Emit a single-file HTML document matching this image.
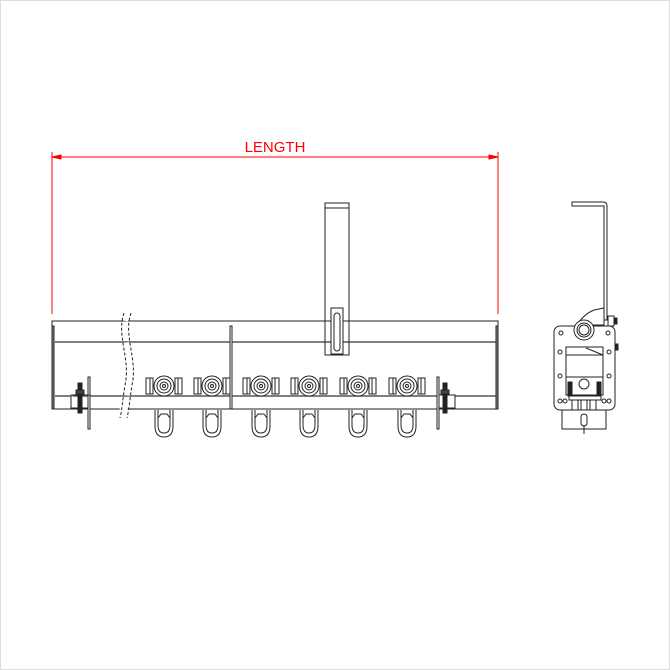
<!DOCTYPE html>
<html><head><style>html,body{margin:0;padding:0;background:#fff}svg{display:block}</style></head><body>
<svg width="670" height="670" viewBox="0 0 670 670" xmlns="http://www.w3.org/2000/svg">
<rect x="0.5" y="0.5" width="669" height="669" fill="#fff" stroke="#ddd"/>
<g stroke="#f00" stroke-width="1" fill="#f00">
<line x1="52" y1="152" x2="52" y2="314"/>
<line x1="498" y1="152" x2="498" y2="314"/>
<line x1="52" y1="157" x2="498" y2="157"/>
<path d="M52 157 L61 155 L61 159Z"/><path d="M498 157 L489 155 L489 159Z"/>
</g>
<text x="275" y="152" font-family="Liberation Sans, sans-serif" font-size="15" fill="#f00" text-anchor="middle">LENGTH</text>
<g fill="none" stroke="#222" stroke-width="1">
<rect x="325" y="203" width="24" height="152" fill="#fff"/>
<line x1="325" y1="208" x2="349" y2="208"/>
<rect x="52" y="321" width="446" height="88" fill="#fff"/>
<line x1="55" y1="342" x2="496" y2="342" stroke="#555" stroke-width="1.5"/>
<line x1="55" y1="396" x2="496" y2="396" stroke="#555" stroke-width="1.5"/>
<rect x="52" y="326" width="2" height="83" fill="#888"/>
<rect x="496" y="326" width="2" height="83" fill="#888"/>
<rect x="230" y="326" width="2" height="83" fill="#fff"/>
<rect x="325" y="321" width="24" height="34" fill="none"/>
<rect x="331" y="308" width="12" height="46" fill="#fff"/>
<rect x="334" y="313" width="6" height="38" rx="3" fill="#fff"/>
<path d="M126 313 C118 335,133 360,127 385 C124 405,124 410,122 418" stroke-dasharray="3,2" stroke="#fff" stroke-width="8"/>
<path d="M124 313 C116 335,131 360,125 385 C122 405,122 410,120 418" stroke-dasharray="3,2"/>
<path d="M131 313 C123 335,138 360,132 385 C129 405,129 410,127 418" stroke-dasharray="3,2"/>
</g>
<g fill="#fff" stroke="#222" stroke-width="1">
<g transform="translate(164,0)"><rect x="-18" y="378" width="6" height="16"/><rect x="12" y="378" width="6" height="16"/><rect x="-14" y="378" width="3" height="16"/><rect x="11" y="378" width="3" height="16"/><circle cx="0" cy="386" r="10"/><circle cx="0" cy="386" r="7"/><circle cx="0" cy="386" r="4"/><circle cx="0" cy="386" r="1.5"/><path d="M-9 410 L-9 426 Q-9 437 0 437 Q9 437 9 426 L9 410 M-6 410 L-6 425 Q-6 433 0 433 Q6 433 6 425 L6 410 M-6 418 L-3 414 L3 414 L6 418"/></g>
<g transform="translate(212,0)"><rect x="-18" y="378" width="6" height="16"/><rect x="12" y="378" width="6" height="16"/><rect x="-14" y="378" width="3" height="16"/><rect x="11" y="378" width="3" height="16"/><circle cx="0" cy="386" r="10"/><circle cx="0" cy="386" r="7"/><circle cx="0" cy="386" r="4"/><circle cx="0" cy="386" r="1.5"/><path d="M-9 410 L-9 426 Q-9 437 0 437 Q9 437 9 426 L9 410 M-6 410 L-6 425 Q-6 433 0 433 Q6 433 6 425 L6 410 M-6 418 L-3 414 L3 414 L6 418"/></g>
<g transform="translate(261,0)"><rect x="-18" y="378" width="6" height="16"/><rect x="12" y="378" width="6" height="16"/><rect x="-14" y="378" width="3" height="16"/><rect x="11" y="378" width="3" height="16"/><circle cx="0" cy="386" r="10"/><circle cx="0" cy="386" r="7"/><circle cx="0" cy="386" r="4"/><circle cx="0" cy="386" r="1.5"/><path d="M-9 410 L-9 426 Q-9 437 0 437 Q9 437 9 426 L9 410 M-6 410 L-6 425 Q-6 433 0 433 Q6 433 6 425 L6 410 M-6 418 L-3 414 L3 414 L6 418"/></g>
<g transform="translate(309,0)"><rect x="-18" y="378" width="6" height="16"/><rect x="12" y="378" width="6" height="16"/><rect x="-14" y="378" width="3" height="16"/><rect x="11" y="378" width="3" height="16"/><circle cx="0" cy="386" r="10"/><circle cx="0" cy="386" r="7"/><circle cx="0" cy="386" r="4"/><circle cx="0" cy="386" r="1.5"/><path d="M-9 410 L-9 426 Q-9 437 0 437 Q9 437 9 426 L9 410 M-6 410 L-6 425 Q-6 433 0 433 Q6 433 6 425 L6 410 M-6 418 L-3 414 L3 414 L6 418"/></g>
<g transform="translate(358,0)"><rect x="-18" y="378" width="6" height="16"/><rect x="12" y="378" width="6" height="16"/><rect x="-14" y="378" width="3" height="16"/><rect x="11" y="378" width="3" height="16"/><circle cx="0" cy="386" r="10"/><circle cx="0" cy="386" r="7"/><circle cx="0" cy="386" r="4"/><circle cx="0" cy="386" r="1.5"/><path d="M-9 410 L-9 426 Q-9 437 0 437 Q9 437 9 426 L9 410 M-6 410 L-6 425 Q-6 433 0 433 Q6 433 6 425 L6 410 M-6 418 L-3 414 L3 414 L6 418"/></g>
<g transform="translate(407,0)"><rect x="-18" y="378" width="6" height="16"/><rect x="12" y="378" width="6" height="16"/><rect x="-14" y="378" width="3" height="16"/><rect x="11" y="378" width="3" height="16"/><circle cx="0" cy="386" r="10"/><circle cx="0" cy="386" r="7"/><circle cx="0" cy="386" r="4"/><circle cx="0" cy="386" r="1.5"/><path d="M-9 410 L-9 426 Q-9 437 0 437 Q9 437 9 426 L9 410 M-6 410 L-6 425 Q-6 433 0 433 Q6 433 6 425 L6 410 M-6 418 L-3 414 L3 414 L6 418"/></g>
</g>
<g fill="#fff" stroke="#222" stroke-width="1">
<path d="M88 377 L90 377 L90 429 L88 429 Z M71 395 L90 395 M71 395 L71 408 L88 408"/>
<rect x="78" y="383" width="4" height="30" fill="#222"/><rect x="76" y="390" width="8" height="4" fill="#444"/>
<path d="M437 377 L439 377 L439 429 L437 429 Z M439 395 L455 395 L455 408 L439 408"/>
<rect x="443" y="383" width="4" height="30" fill="#222"/><rect x="441" y="390" width="8" height="4" fill="#444"/>
</g>
<g fill="#fff" stroke="#222" stroke-width="1">
<path d="M572 202 L603 202 Q607 202 607 206 L607 320 L604 320 L604 206 L572 206 Z"/>
<path d="M577 325 Q584 314 594 310 L604 308 L604 325 Z"/>
<rect x="608" y="316" width="6" height="10"/><rect x="614" y="318" width="3" height="6" fill="#222"/>
<rect x="554" y="326" width="61" height="84" rx="6"/>
<rect x="615" y="344" width="3" height="6" fill="#222"/>
<circle cx="584" cy="330" r="10"/><circle cx="584" cy="330" r="7"/><circle cx="584" cy="330" r="5"/>
<rect x="566" y="347" width="37" height="48"/>
<path d="M566 355 L603 355 M586 348 L603 355" />
<line x1="566" y1="377" x2="603" y2="377"/>
<circle cx="584" cy="384" r="5"/>
<rect x="568" y="382" width="4" height="14" fill="#222"/><rect x="597" y="382" width="4" height="14" fill="#222"/>
<rect x="569" y="396" width="32" height="4"/>
<rect x="572" y="400" width="6" height="10"/><rect x="581" y="400" width="6" height="10"/><rect x="590" y="400" width="6" height="10"/>
<rect x="562" y="410" width="44" height="19"/>
<rect x="581" y="414" width="6" height="12" rx="3"/>
<line x1="584" y1="426" x2="584" y2="434"/>
<circle cx="561" cy="333" r="2"/><circle cx="608" cy="333" r="2"/>
<circle cx="560" cy="352" r="2"/><circle cx="609" cy="352" r="2"/>
<circle cx="560" cy="376" r="2"/><circle cx="609" cy="376" r="2"/>
<circle cx="560" cy="401" r="2"/><circle cx="609" cy="401" r="2"/>
<circle cx="565" cy="401" r="2"/><circle cx="604" cy="401" r="2"/>
</g>
</svg>
</body></html>
